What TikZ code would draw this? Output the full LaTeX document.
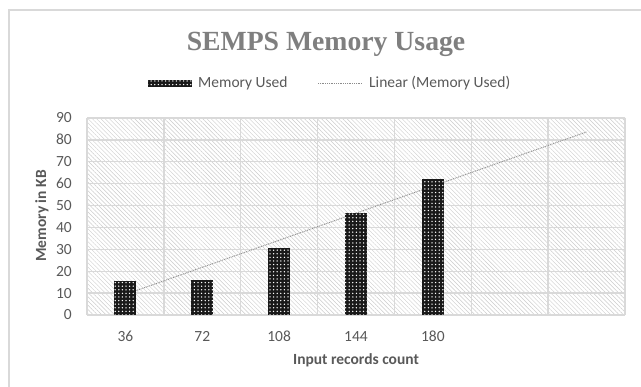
\documentclass[tikz,border=0pt]{standalone}
\usepackage{fontspec}
\setmainfont{Carlito}
\newfontfamily\titlefont{Liberation Serif}
\usetikzlibrary{patterns.meta}
\definecolor{txt}{HTML}{595959}
\definecolor{gridc}{HTML}{D9D9D9}
\definecolor{hatchc}{HTML}{CCCCCC}
\definecolor{ttl}{HTML}{7F7F7F}
\definecolor{trendc}{HTML}{8C8C8C}
\tikzset{
  ticklbl/.style={inner sep=0pt, text=txt, font=\fontsize{15.5}{18}\selectfont},
  axtitle/.style={inner sep=0pt, text=txt, font=\bfseries\fontsize{15.5}{18}\selectfont},
  legtext/.style={inner sep=0pt, text=txt, font=\fontsize{15.5}{18}\selectfont, anchor=base west},
  gridline/.style={draw=gridc, line width=1.3pt},
  trendline/.style={draw=trendc, line width=0.9pt, dash pattern=on 0.9pt off 0.9pt},
  barfill/.style={fill=black!90, postaction={pattern={Dots[radius=0.75pt,distance=3.6pt]}, pattern color=white}},
  hatchfill/.style={pattern={Lines[angle=-45,distance=3pt,line width=0.45pt]}, pattern color=hatchc}
}
\begin{document}
\begin{tikzpicture}[x=1pt,y=-1pt]
\useasboundingbox (0,0) rectangle (641,387);
\fill[white] (0,0) rectangle (641,387);
% chart border (cropped on right and bottom)
\draw[draw=gridc, line width=1.2pt] (9,387) -- (9,10) -- (641,10);
% title
\node[inner sep=0pt, anchor=base, text=ttl, font=\titlefont\bfseries\fontsize{27.7}{32}\selectfont] (title) at (326,50.5) {SEMPS Memory Usage};
% legend
\path[barfill] (148,80) rectangle (192,87);
\node[legtext] (leg1) at (198,88) {Memory Used};
\coordinate (lt1) at (318,83);
\coordinate (lt2) at (362,83);
\draw[trendline] (lt1) -- (lt2);
\node[legtext] (leg2) at (369,88) {Linear (Memory Used)};
% plot area
\begin{scope}[shift={(87,315)}, x=76.857pt, y=2.189pt]
  \fill[white] (0,0) rectangle (7,90);
  \fill[hatchfill] (0,0) rectangle (7,90);
  \foreach \v in {0,10,...,90} \draw[gridline] (0,\v) -- (7,\v);
  \foreach \c in {0,...,7} \draw[gridline] (\c,0) -- (\c,90);
  \coordinate (t1) at (0.5,9.42);
  \coordinate (t2) at (6.5,83.64);
  \draw[trendline] (t1) -- (t2);
  \foreach \i/\v in {0/15.5,1/16,2/30.7,3/46.5,4/62.1}
    \path[barfill] ({\i+0.5-0.1431},0) rectangle ({\i+0.5+0.1431},\v);
\end{scope}
% y tick labels
\foreach \v in {0,10,...,90}
  \node[ticklbl, anchor=base east] at (72,{320-2.189*\v}) {\v};
% x tick labels
\foreach \i/\l in {0/36,1/72,2/108,3/144,4/180}
  \node[ticklbl, anchor=base] at ({87+76.857*(\i+0.5)},342) {\l};
% axis titles
\node[axtitle, rotate=90] (ylab) at (42,216) {Memory in KB};
\node[axtitle, anchor=base] (xlab) at (356,365) {Input records count};
\end{tikzpicture}
\end{document}
